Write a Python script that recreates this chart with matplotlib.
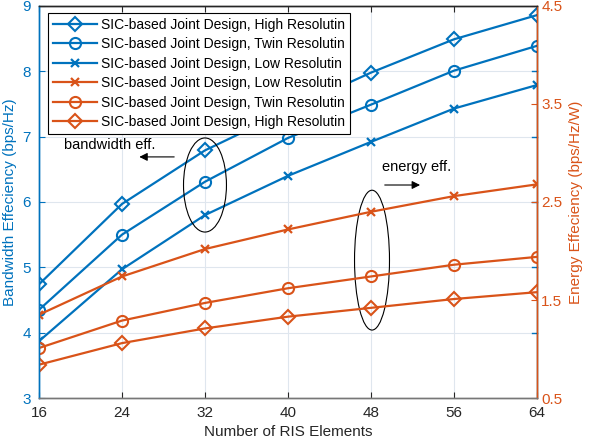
import matplotlib
matplotlib.use("Agg")
import matplotlib.pyplot as plt
from matplotlib.patches import Ellipse

plt.rcParams['font.family'] = ['Liberation Sans', 'DejaVu Sans']

ris_elements = [16, 24, 32, 40, 48, 56, 64]
bw_high = [4.74, 5.97, 6.79, 7.40, 7.98, 8.49, 8.86]
bw_twin = [4.35, 5.50, 6.31, 6.98, 7.49, 8.01, 8.39]
bw_low = [3.87, 4.97, 5.80, 6.40, 6.92, 7.43, 7.79]
ee_low = [1.35, 1.74, 2.02, 2.22, 2.40, 2.56, 2.68]
ee_twin = [1.01, 1.29, 1.47, 1.62, 1.74, 1.86, 1.94]
ee_high = [0.84, 1.06, 1.21, 1.33, 1.42, 1.51, 1.58]

labels_bw = ["SIC-based Joint Design, High Resolutin",
             "SIC-based Joint Design, Twin Resolutin",
             "SIC-based Joint Design, Low Resolutin"]
labels_ee = ["SIC-based Joint Design, Low Resolutin",
             "SIC-based Joint Design, Twin Resolutin",
             "SIC-based Joint Design, High Resolutin"]

BLUE = '#0072BD'
ORANGE = '#D95319'
DARK = '#262626'

fig = plt.figure(figsize=(5.9, 4.46), dpi=100)
ax = fig.add_axes([0.0661, 0.1076, 0.844, 0.879])
ax2 = ax.twinx()

lw = 1.6
h = []
h += ax.plot(ris_elements, bw_high, '-D', color=BLUE, lw=lw, ms=7, mfc='none', mew=1.5, label=labels_bw[0])
h += ax.plot(ris_elements, bw_twin, '-o', color=BLUE, lw=lw, ms=8, mfc='none', mew=1.5, label=labels_bw[1])
h += ax.plot(ris_elements, bw_low, '-x', color=BLUE, lw=lw, ms=6, mew=1.6, label=labels_bw[2])
h += ax2.plot(ris_elements, ee_low, '-x', color=ORANGE, lw=lw, ms=6, mew=1.6, label=labels_ee[0])
h += ax2.plot(ris_elements, ee_twin, '-o', color=ORANGE, lw=lw, ms=8, mfc='none', mew=1.5, label=labels_ee[1])
h += ax2.plot(ris_elements, ee_high, '-D', color=ORANGE, lw=lw, ms=7, mfc='none', mew=1.5, label=labels_ee[2])

ax.set_xlim(16, 64)
ax.set_ylim(3, 9)
ax2.set_ylim(0.5, 4.5)
ax.set_xticks(ris_elements)
ax.set_yticks([3, 4, 5, 6, 7, 8, 9])
ax2.set_yticks([0.5, 1.5, 2.5, 3.5, 4.5])
ax2.set_yticklabels(['0.5', '1.5', '2.5', '3.5', '4.5'])

ax.grid(True, color='#dfe6ee', lw=0.8)
ax.set_axisbelow(True)

ax.tick_params(axis='y', colors=BLUE, labelsize=11, direction='in', length=4, right=False, pad=6)
ax.tick_params(axis='x', colors=DARK, labelsize=11, direction='in', length=4, top=True, pad=6)
ax2.tick_params(axis='y', colors=ORANGE, labelsize=11, direction='in', length=4, pad=3)

# left axis ticks mirrored on right side (blue)
for yv in [4, 5, 6, 7, 8]:
    ax.plot([1.0 - 0.009, 1.0], [yv, yv], transform=ax.get_yaxis_transform(), color=BLUE, lw=1, clip_on=False)

ax.spines['left'].set_color(BLUE)
ax.spines['bottom'].set_color('#777777')
ax.spines['top'].set_color(DARK)
ax2.spines['right'].set_color(ORANGE)
ax2.spines['left'].set_color(BLUE)
ax2.spines['top'].set_color(DARK)
ax2.spines['bottom'].set_color('#777777')
for a in (ax, ax2):
    for s in a.spines.values():
        s.set_linewidth(1.0)

ax.set_xlabel('Number of RIS Elements', fontsize=11, color=DARK, labelpad=3)
ax.set_ylabel('Bandwidth Effeciency (bps/Hz)', fontsize=11, color=BLUE, labelpad=4)
ax2.set_ylabel('Energy Effeciency (bps/Hz/W)', fontsize=11, color=ORANGE, labelpad=5)

leg = ax2.legend(handles=h, loc='upper left', bbox_to_anchor=(0.018, 0.983), fontsize=10,
                 frameon=True, fancybox=False, edgecolor='black', framealpha=1,
                 borderpad=0.35, labelspacing=0.4, handlelength=3.2, handletextpad=0.3,
                 borderaxespad=0)
leg.get_frame().set_linewidth(0.8)

# annotations
ax.add_patch(Ellipse((32, 6.26), 4.14, 1.44, fill=False, ec='black', lw=0.8, zorder=5))
ax.add_patch(Ellipse((48.1, 5.11), 3.37, 2.14, fill=False, ec='black', lw=0.8, zorder=5))
ax.text(18.4, 6.87, 'bandwidth eff.', fontsize=10.5, va='center', ha='left', color='black', zorder=6)
ax.annotate('', xy=(25.4, 6.69), xytext=(29.3, 6.69),
            arrowprops=dict(arrowstyle='-|>', color='black', lw=0.8, mutation_scale=12), zorder=6)
ax.text(49.06, 6.54, 'energy eff.', fontsize=10.5, va='center', ha='left', color='black', zorder=6)
ax.annotate('', xy=(53.0, 6.26), xytext=(49.06, 6.26),
            arrowprops=dict(arrowstyle='-|>', color='black', lw=0.8, mutation_scale=12), zorder=6)

fig.savefig('out.png', dpi=100)
